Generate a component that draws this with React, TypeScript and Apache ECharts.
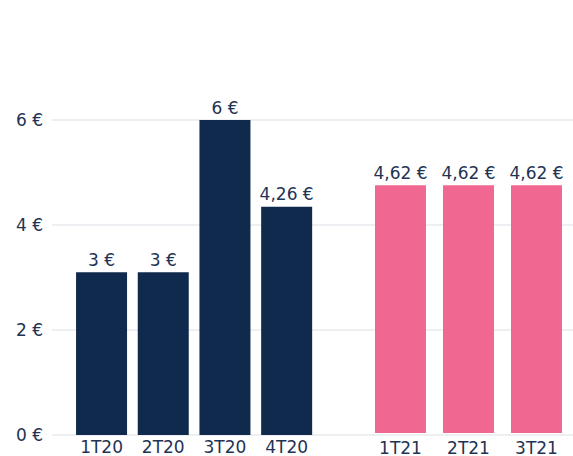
import React, { useEffect, useRef } from "react";
import * as echarts from "echarts";

// Data
const categories2020 = ["1T20", "2T20", "3T20", "4T20"];
const values2020 = [3.1, 3.1, 6.04, 4.35];
const labels2020 = ["3 €", "3 €", "6 €", "4,26 €"];

const categories2021 = ["1T21", "2T21", "3T21"];
const values2021 = [4.75, 4.75, 4.75];
const labels2021 = ["4,62 €", "4,62 €", "4,62 €"];

const yMin = 0;
const yMax = 6;
const yInterval = 2;

const FONT = "DejaVu Sans";
const TEXT = "#1f3354";
const NAVY = "#0f2a4d";
const PINK = "#f06892";

export default function App() {
  const ref = useRef<HTMLDivElement>(null);

  useEffect(() => {
    if (!ref.current) return;
    const chart = echarts.init(ref.current, undefined, { renderer: "svg" });
    const top = 120;
    const height = 315;
    const hiddenY = (gridIndex: number) => ({
      type: "value" as const,
      gridIndex,
      min: yMin,
      max: yMax,
      interval: yInterval,
      show: false,
      splitLine: { show: false },
    });
    const barLabel = (texts: string[]) => ({
      show: true,
      position: "top" as const,
      distance: 4,
      color: TEXT,
      fontFamily: FONT,
      fontSize: 17,
      formatter: (p: any) => texts[p.dataIndex],
    });
    chart.setOption({
      animation: false,
      backgroundColor: "#ffffff",
      grid: [
        { left: 52, right: 0, top, height },
        { left: 70.7, width: 246.8, top, height },
        { left: 366.5, width: 204, top, height },
      ],
      xAxis: [
        { type: "category", gridIndex: 0, data: [], show: false },
        {
          type: "category",
          gridIndex: 1,
          data: categories2020,
          axisLine: { show: false },
          axisTick: { show: false },
          axisLabel: { color: TEXT, fontFamily: FONT, fontSize: 17, margin: 3 },
        },
        {
          type: "category",
          gridIndex: 2,
          data: categories2021,
          axisLine: { show: false },
          axisTick: { show: false },
          axisLabel: { color: TEXT, fontFamily: FONT, fontSize: 17, margin: 6 },
        },
      ],
      yAxis: [
        {
          type: "value",
          gridIndex: 0,
          min: yMin,
          max: yMax,
          interval: yInterval,
          axisLine: { show: false },
          axisTick: { show: false },
          axisLabel: {
            color: TEXT,
            fontFamily: FONT,
            fontSize: 17,
            margin: 9,
            formatter: (v: number) => `${v} €`,
          },
          splitLine: { lineStyle: { color: "#e9eaee", width: 1.5 } },
        },
        hiddenY(1),
        hiddenY(2),
      ],
      series: [
        {
          type: "bar",
          xAxisIndex: 1,
          yAxisIndex: 1,
          data: values2020,
          barWidth: 51,
          itemStyle: { color: NAVY },
          label: barLabel(labels2020),
        },
        {
          type: "bar",
          xAxisIndex: 2,
          yAxisIndex: 2,
          data: values2021,
          barWidth: 51,
          itemStyle: { color: PINK },
          label: barLabel(labels2021),
        },
      ],
    });
    return () => chart.dispose();
  }, []);

  return (
    <div
      ref={ref}
      style={{ position: "fixed", left: 0, top: 0, width: 573, height: 456 }}
    />
  );
}
